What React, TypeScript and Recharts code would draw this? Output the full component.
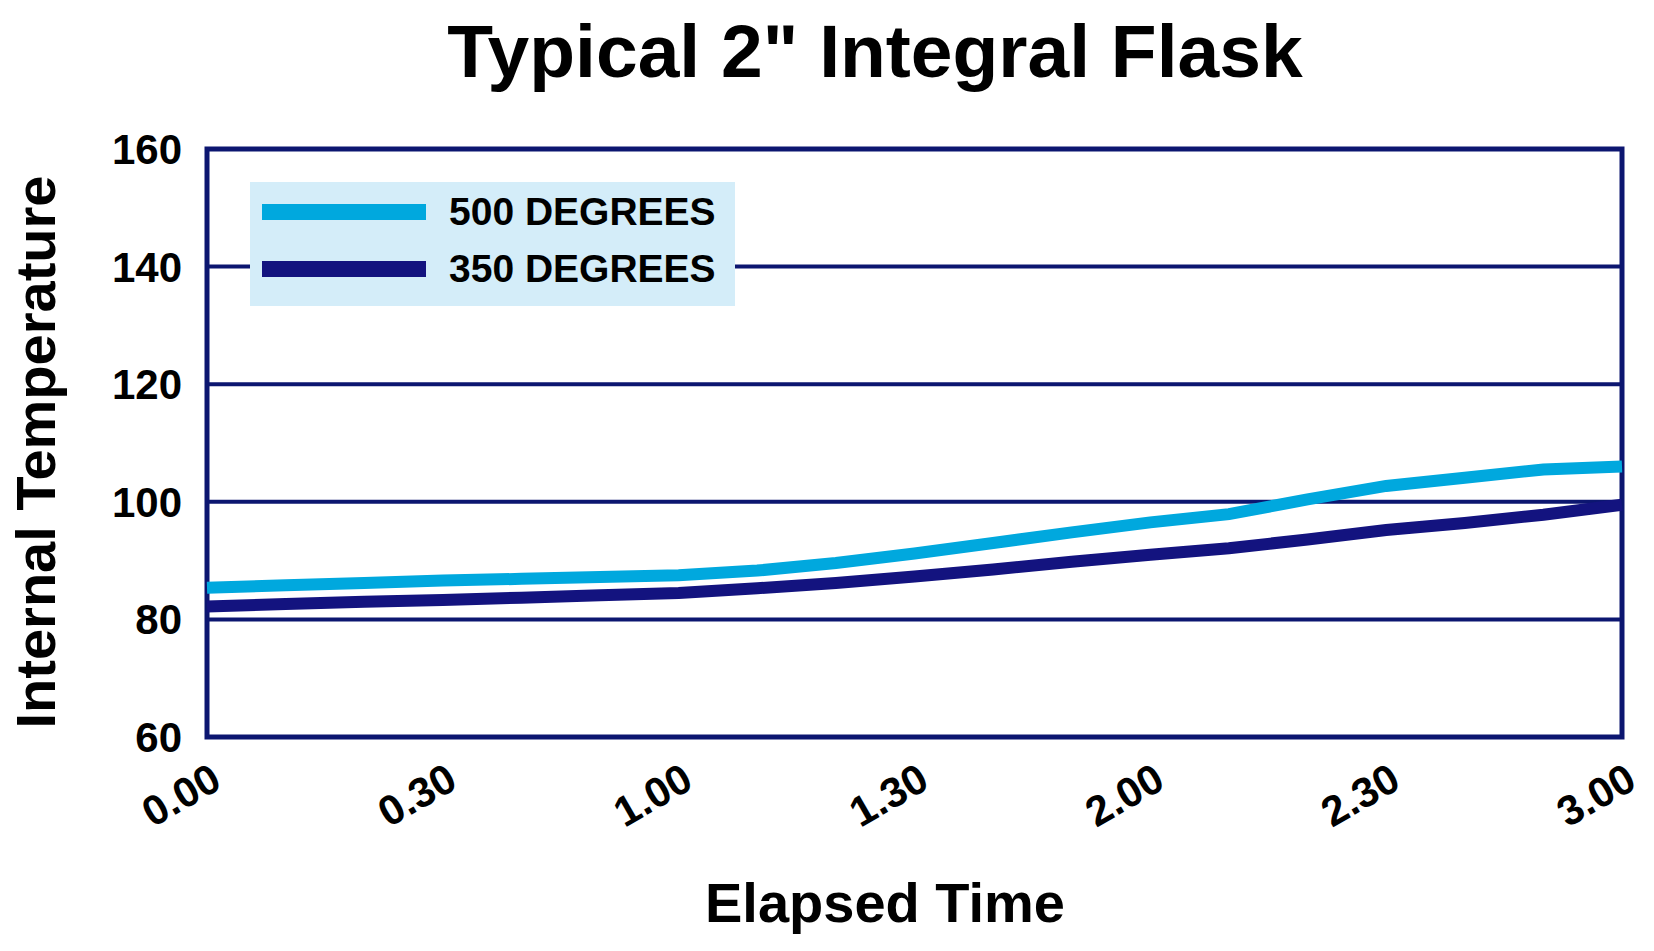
import { LineChart, Line, XAxis, YAxis, CartesianGrid, Legend, ReferenceArea } from "recharts";

// elapsed time in minutes, read every 10 min off the chart
const minutes = [0, 10, 20, 30, 40, 50, 60, 70, 80, 90, 100, 110, 120, 130, 140, 150, 160, 170, 180];
const temp500 = [85.4, 85.8, 86.2, 86.6, 86.9, 87.2, 87.5, 88.3, 89.6, 91.2, 93.0, 94.8, 96.5, 97.9, 100.4, 102.7, 104.1, 105.5, 106.0];
const temp350 = [82.2, 82.6, 83.0, 83.3, 83.7, 84.1, 84.5, 85.3, 86.2, 87.3, 88.5, 89.8, 91.0, 92.1, 93.6, 95.2, 96.4, 97.8, 99.5];

const xTicks = [0, 30, 60, 90, 120, 150, 180];
const xTickLabels = ["0.00", "0.30", "1.00", "1.30", "2.00", "2.30", "3.00"];
const yTicks = [60, 80, 100, 120, 140, 160];

const seriesNames = ["500 DEGREES", "350 DEGREES"];

const LIGHT = "#00a8de";
const DARK = "#13137f";
const NAVY = "#0c1670";
const FONT = "'Liberation Sans', Arial, Helvetica, sans-serif";

const data = minutes.map((m, i) => ({ m, a: temp500[i], b: temp350[i] }));

const XTick = (props: any) => {
  const { x, y, payload } = props;
  const idx = xTicks.indexOf(payload.value);
  const cx = x - 26;
  const cy = y + 58;
  return (
    <text
      x={cx}
      y={cy}
      transform={`rotate(-30, ${cx}, ${cy})`}
      textAnchor="middle"
      dominantBaseline="central"
      fontFamily={FONT}
      fontWeight="bold"
      fontSize={42}
      fill="#000"
    >
      {xTickLabels[idx]}
    </text>
  );
};

const LegendBox = (props: any) => {
  // keep the order of the series, not alphabetical
  const items = [...(props.payload || [])].sort(
    (p: any, q: any) => seriesNames.indexOf(p.value) - seriesNames.indexOf(q.value)
  );
  return (
    <div
      style={{
        width: 485,
        height: 124,
        background: "#d4edf9",
        boxSizing: "border-box",
        paddingTop: 1,
      }}
    >
      {items.map((entry: any) => (
        <div key={entry.value} style={{ display: "flex", alignItems: "center", height: 57 }}>
          <div style={{ width: 164, height: 16, marginLeft: 12, background: entry.color }} />
          <span
            style={{
              marginLeft: 23,
              fontFamily: FONT,
              fontWeight: "bold",
              fontSize: 39,
              color: "#000",
              lineHeight: 1,
            }}
          >
            {entry.value}
          </span>
        </div>
      ))}
    </div>
  );
};

export default function App() {
  return (
    <div style={{ position: "absolute", left: 0, top: 0, width: 1654, height: 951, background: "#fff" }}>
      <LineChart
        width={1654}
        height={951}
        data={data}
        margin={{ top: 149, right: 32, bottom: 154, left: 0 }}
      >
        <CartesianGrid vertical={false} stroke={NAVY} strokeWidth={4} />
        <XAxis
          dataKey="m"
          type="number"
          domain={[0, 180]}
          ticks={xTicks}
          axisLine={false}
          tickLine={false}
          tickSize={0}
          tickMargin={0}
          height={60}
          tick={<XTick />}
          interval={0}
        />
        <YAxis
          type="number"
          domain={[60, 160]}
          ticks={yTicks}
          width={207}
          axisLine={false}
          tickLine={false}
          tickSize={0}
          tickMargin={25}
          interval={0}
          tick={{ fontFamily: FONT, fontWeight: "bold", fontSize: 42, fill: "#000" }}
        />
        <ReferenceArea x1={0} x2={180} y1={60} y2={160} fill="none" stroke={NAVY} strokeWidth={5} ifOverflow="visible" />
        <Line
          type="linear"
          dataKey="a"
          name={seriesNames[0]}
          stroke={LIGHT}
          strokeWidth={12}
          dot={false}
          activeDot={false}
          isAnimationActive={false}
        />
        <Line
          type="linear"
          dataKey="b"
          name={seriesNames[1]}
          stroke={DARK}
          strokeWidth={12}
          dot={false}
          activeDot={false}
          isAnimationActive={false}
        />
        <Legend
          layout="vertical"
          verticalAlign="middle"
          align="center"
          content={<LegendBox />}
          wrapperStyle={{ left: 250, top: 182, width: 485, height: 124 }}
        />
      </LineChart>
      <svg
        width={1654}
        height={951}
        style={{ position: "absolute", left: 0, top: 0, pointerEvents: "none" }}
      >
        <text x={875} y={77} textAnchor="middle" fontFamily={FONT} fontWeight="bold" fontSize={75} fill="#000">
          Typical 2" Integral Flask
        </text>
        <text
          transform="translate(55, 452) rotate(-90)"
          textAnchor="middle"
          fontFamily={FONT}
          fontWeight="bold"
          fontSize={56}
          fill="#000"
        >
          Internal Temperature
        </text>
        <text x={885} y={922} textAnchor="middle" fontFamily={FONT} fontWeight="bold" fontSize={56} fill="#000">
          Elapsed Time
        </text>
      </svg>
    </div>
  );
}
